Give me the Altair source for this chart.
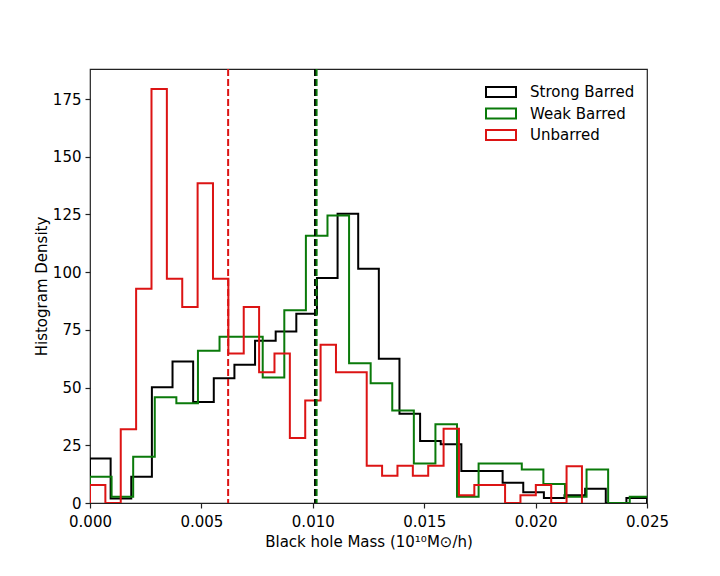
import altair as alt
import pandas as pd

# ---- data (histogram density per bin) ----
series_names = ["Strong Barred", "Weak Barred", "Unbarred"]
series_colors = ["#000000", "#0a7a0a", "#dc1414"]

strong_start = 0.0
strong_width = 0.000926
strong_counts = [19.3, 2.0, 11.4, 50.1, 61.3, 43.7, 54.0, 59.9, 70.3, 74.3,
                 82.0, 97.5, 125.3, 101.5, 62.5, 38.7, 26.9, 25.4, 13.9, 13.9,
                 8.8, 4.7, 2.2, 3.4, 6.2, 0.0, 2.2]

weak_start = 0.0
weak_width = 0.000969
weak_counts = [11.4, 2.7, 20.0, 45.8, 43.2, 65.9, 72.0, 72.0, 54.4, 83.5,
               115.8, 124.5, 60.5, 51.9, 40.1, 17.1, 34.1, 2.7, 17.1, 17.1,
               14.5, 8.2, 2.7, 14.5, 0.0, 2.7]

unbarred_start = 0.0
unbarred_width = 0.00069
unbarred_counts = [7.8, 0.0, 31.9, 92.8, 179.3, 97.1, 84.9, 138.5, 97.1, 64.8,
                   84.9, 56.6, 64.8, 28.2, 44.4, 68.5, 56.6, 56.6, 16.1, 11.8,
                   16.1, 11.8, 16.1, 32.2, 3.4, 7.8, 7.8, 0.0, 3.4, 7.8,
                   0.0, 15.9]

# mean masses (dashed vertical lines), drawn red, black, green
mean_series = ["Unbarred", "Strong Barred", "Weak Barred"]
mean_values = [0.0062, 0.0101, 0.01017]

x_ticks = [0.0, 0.005, 0.010, 0.015, 0.020, 0.025]
y_ticks = [0, 25, 50, 75, 100, 125, 150, 175]

# ---- build step outlines (like matplotlib histtype="step") ----
rows = []
for name, start, width, counts in [
    ("Strong Barred", strong_start, strong_width, strong_counts),
    ("Weak Barred", weak_start, weak_width, weak_counts),
    ("Unbarred", unbarred_start, unbarred_width, unbarred_counts),
]:
    idx = 0
    rows.append({"series": name, "x": start, "y": 0.0, "i": idx}); idx += 1
    for k, c in enumerate(counts):
        rows.append({"series": name, "x": start + k * width, "y": c, "i": idx}); idx += 1
    end = start + len(counts) * width
    rows.append({"series": name, "x": end, "y": counts[-1], "i": idx}); idx += 1
    rows.append({"series": name, "x": end, "y": 0.0, "i": idx}); idx += 1
steps = pd.DataFrame(rows)
means = pd.DataFrame({"series": mean_series, "mean": mean_values})

font = "DejaVu Sans"
x_scale = alt.Scale(domain=[0, 0.025], nice=False, zero=False)
y_scale = alt.Scale(domain=[0, 188], nice=False)
color_scale = alt.Scale(domain=series_names, range=series_colors)

lines = alt.Chart(steps).mark_line(
    interpolate="step-after", strokeWidth=2, clip=True
).encode(
    x=alt.X("x:Q", scale=x_scale,
            axis=alt.Axis(values=x_ticks, format=".3f",
                          title="Black hole Mass (10¹⁰M⊙/h)")),
    y=alt.Y("y:Q", scale=y_scale,
            axis=alt.Axis(values=y_ticks, title="Histogram Density")),
    color=alt.Color("series:N", scale=color_scale,
                    legend=alt.Legend(
                        title=None, orient="none", legendX=400, legendY=12,
                        symbolType="M-1.5,-0.5H1.5V0.5H-1.5Z",
                        symbolSize=400, symbolStrokeWidth=2,
                        symbolFillColor="transparent",
                        labelFontSize=15, labelFont=font, labelColor="black",
                        labelOffset=18, rowPadding=1.5)),
    order=alt.Order("i:Q"),
)

rules = alt.Chart(means).mark_rule(strokeWidth=2, strokeDash=[7, 3]).encode(
    x=alt.X("mean:Q", scale=x_scale),
    color=alt.Color("series:N", scale=color_scale, legend=None),
)

chart = alt.layer(lines, rules).resolve_scale(color="independent").properties(
    width=557, height=434,
    autosize=alt.AutoSizeParams(type="none"),
    padding={"left": 82, "top": 61, "right": 65, "bottom": 65},
).configure_view(
    stroke="#222222", strokeWidth=1.2
).configure_axis(
    grid=False, domain=False, tickColor="#222222", tickSize=5, tickWidth=1.2,
    labelFont=font, labelFontSize=15, labelColor="black", labelPadding=4,
    titleFont=font, titleFontSize=15, titleFontWeight="normal", titleColor="black",
).configure_axisX(
    titlePadding=5, labelFlush=False, labelPadding=6
).configure_axisY(
    titlePadding=3, labelFlush=False
)

chart.save("out.html", embed_options={"renderer": "svg", "actions": False})
